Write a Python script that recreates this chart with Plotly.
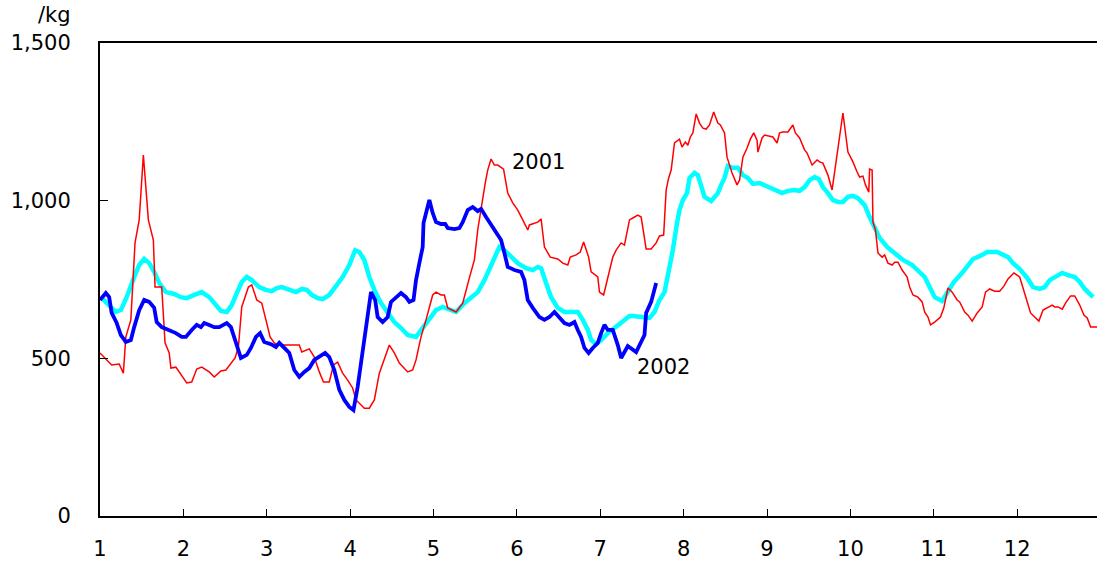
import plotly.graph_objects as go

# x positions are in month units (1 = start of January)
red_x = [1.00,1.05,1.14,1.23,1.28,1.31,1.37,1.42,1.47,1.52,1.58,1.64,1.66,1.74,1.78,1.83,1.85,1.91,2.04,2.10,
         2.16,2.22,2.31,2.37,2.45,2.51,2.57,2.62,2.66,2.70,2.78,2.82,2.88,2.94,2.99,3.04,3.09,3.15,3.39,3.42,
         3.51,3.57,3.63,3.68,3.75,3.80,3.85,3.91,3.97,4.03,4.07,4.17,4.23,4.29,4.35,4.41,4.47,4.53,4.59,4.69,
         4.75,4.79,4.85,4.91,4.99,5.03,5.09,5.13,5.17,5.27,5.35,5.43,5.49,5.53,5.57,5.62,5.65,5.69,5.73,5.77,
         5.84,5.89,5.95,6.01,6.07,6.13,6.15,6.21,6.25,6.29,6.33,6.40,6.49,6.55,6.61,6.64,6.71,6.76,6.80,6.86,
         6.89,6.97,6.99,7.04,7.09,7.15,7.19,7.25,7.29,7.35,7.39,7.45,7.49,7.53,7.55,7.61,7.67,7.71,7.76,7.79,
         7.82,7.85,7.89,7.95,7.98,8.02,8.05,8.08,8.11,8.15,8.19,8.23,8.27,8.31,8.36,8.41,8.44,8.49,8.52,8.58,
         8.64,8.67,8.71,8.76,8.80,8.84,8.88,8.89,8.94,8.97,9.07,9.12,9.15,9.19,9.25,9.31,9.34,9.39,9.45,9.48,
         9.54,9.60,9.63,9.67,9.73,9.78,9.81,9.85,9.91,9.97,10.03,10.08,10.11,10.15,10.18,10.22,10.23,10.26,10.27,10.30,
         10.33,10.38,10.41,10.45,10.50,10.53,10.57,10.62,10.68,10.71,10.75,10.81,10.86,10.89,10.93,10.96,11.01,11.08,11.12,11.17,
         11.22,11.28,11.31,11.37,11.41,11.46,11.52,11.58,11.62,11.67,11.73,11.79,11.84,11.89,11.96,12.03,12.09,12.13,12.16,12.21,
         12.26,12.31,12.37,12.42,12.45,12.49,12.54,12.58,12.64,12.69,12.75,12.80,12.84,12.88,12.96]
red_y = [517,504,479,482,453,568,622,866,939,1145,939,875,726,726,549,517,469,472,422,425,
         466,472,457,441,460,463,482,501,536,663,726,733,685,675,622,568,549,542,542,520,
         530,504,457,425,425,479,488,453,431,406,368,342,342,368,453,495,542,517,485,457,
         463,495,568,622,701,710,701,701,660,647,675,755,812,907,980,1056,1097,1132,1113,1113,
         1100,1024,993,970,939,907,923,929,932,942,853,821,815,802,796,821,828,837,869,821,
         774,758,710,701,758,821,843,866,859,939,945,954,948,882,847,847,866,888,891,1034,
         1072,1097,1183,1195,1170,1186,1176,1202,1215,1275,1246,1230,1227,1240,1281,1246,1240,1215,1138,1088,
         1050,1065,1138,1167,1195,1215,1192,1154,1199,1208,1202,1183,1215,1218,1218,1240,1215,1199,1161,1151,
         1113,1129,1123,1119,1081,1034,1091,1151,1278,1154,1123,1091,1075,1078,1050,1027,1100,1097,932,907,
         834,821,828,802,796,805,805,780,758,726,701,694,679,647,631,606,615,631,660,723,
         710,685,679,647,637,618,644,663,710,720,713,713,729,752,771,758,707,675,644,631,
         618,653,663,669,663,663,656,675,698,698,669,637,628,599,599]

cyan_x = [1.01,1.08,1.19,1.25,1.32,1.41,1.47,1.53,1.59,1.65,1.71,1.79,1.89,1.97,2.04,2.13,2.22,2.31,2.39,2.45,
          2.52,2.58,2.64,2.70,2.76,2.82,2.91,2.99,3.06,3.12,3.18,3.27,3.35,3.42,3.48,3.54,3.61,3.67,3.75,3.83,
          3.91,3.99,4.06,4.11,4.17,4.23,4.29,4.37,4.45,4.53,4.61,4.69,4.79,4.87,4.95,5.03,5.11,5.21,5.27,5.37,
          5.45,5.53,5.61,5.67,5.73,5.79,5.85,5.93,6.01,6.11,6.19,6.25,6.29,6.35,6.41,6.49,6.57,6.67,6.73,6.79,
          6.85,6.89,6.95,7.01,7.09,7.17,7.25,7.35,7.39,7.51,7.59,7.65,7.71,7.77,7.83,7.87,7.92,7.95,7.99,8.04,
          8.07,8.13,8.17,8.21,8.25,8.33,8.41,8.45,8.49,8.53,8.59,8.65,8.71,8.77,8.83,8.91,9.01,9.09,9.18,9.25,
          9.33,9.39,9.45,9.51,9.57,9.62,9.67,9.73,9.79,9.85,9.91,9.97,10.03,10.09,10.17,10.23,10.29,10.35,10.44,10.53,
          10.63,10.74,10.81,10.89,10.95,11.01,11.10,11.17,11.24,11.34,11.41,11.47,11.55,11.64,11.76,11.83,11.89,11.95,12.03,12.12,
          12.19,12.27,12.33,12.39,12.48,12.54,12.61,12.69,12.75,12.81,12.91]
cyan_y = [694,675,647,653,694,758,796,815,802,774,739,710,704,694,691,701,710,694,669,650,
          647,669,707,742,758,748,726,717,713,723,726,717,710,720,717,701,691,688,701,729,
          758,796,843,837,812,758,717,675,644,615,596,574,568,596,628,653,663,653,647,675,
          694,710,748,786,821,853,843,821,802,786,780,790,786,739,694,660,647,647,647,622,
          590,558,545,558,580,596,615,634,634,631,628,647,685,710,790,843,929,970,1002,1024,
          1072,1088,1081,1050,1012,999,1024,1050,1072,1110,1104,1104,1081,1072,1053,1056,1043,1034,1024,1031,
          1034,1031,1043,1065,1075,1069,1043,1024,1002,996,996,1012,1015,1008,986,948,913,882,853,834,
          812,796,780,758,726,694,682,710,742,771,793,815,824,837,837,828,821,802,783,755,
          726,720,726,748,764,771,764,758,742,720,694]

blue_x = [1.00,1.07,1.11,1.14,1.20,1.25,1.31,1.37,1.41,1.47,1.53,1.59,1.65,1.68,1.74,1.83,1.91,1.98,2.03,2.10,
          2.16,2.21,2.25,2.31,2.37,2.43,2.49,2.52,2.57,2.63,2.69,2.76,2.81,2.87,2.92,2.97,3.05,3.11,3.15,3.21,
          3.27,3.33,3.39,3.45,3.51,3.57,3.63,3.70,3.75,3.81,3.87,3.93,3.99,4.04,4.09,4.15,4.21,4.25,4.30,4.33,
          4.39,4.45,4.49,4.55,4.61,4.67,4.71,4.76,4.79,4.83,4.87,4.88,4.91,4.95,4.99,5.03,5.09,5.14,5.17,5.25,
          5.31,5.35,5.41,5.47,5.53,5.57,5.63,5.69,5.75,5.81,5.85,5.89,5.97,6.05,6.09,6.13,6.19,6.27,6.33,6.39,
          6.45,6.51,6.57,6.63,6.69,6.73,6.77,6.81,6.86,6.91,6.97,7.01,7.05,7.09,7.15,7.21,7.25,7.33,7.43,7.53,
          7.55,7.61,7.67]
blue_y = [685,707,694,644,612,574,552,558,599,653,685,679,660,615,599,590,580,568,568,590,
          606,599,612,606,599,599,609,612,599,549,501,511,533,568,580,552,545,536,549,533,
          517,463,441,457,469,495,504,517,504,463,400,368,346,336,409,526,622,710,685,631,
          615,631,679,694,707,694,679,685,748,802,853,929,961,1002,961,932,926,926,913,910,
          913,932,970,980,967,974,948,923,901,875,834,790,780,774,748,685,660,631,622,631,
          647,631,612,606,615,590,568,533,517,533,549,580,606,590,590,542,501,539,520,574,
          644,679,739]

y_ticks = [0, 500, 1000, 1500]
y_tick_text = ["0", "500", "1,000", "1,500"]
x_ticks = list(range(1, 13))
x_tick_text = [str(m) for m in x_ticks]

fig = go.Figure()
fig.add_trace(go.Scatter(x=cyan_x, y=cyan_y, mode="lines",
                         line=dict(color="#00FFFF", width=4.5), showlegend=False))
fig.add_trace(go.Scatter(x=red_x, y=red_y, mode="lines",
                         line=dict(color="#FF0000", width=1.5), showlegend=False))
fig.add_trace(go.Scatter(x=blue_x, y=blue_y, mode="lines",
                         line=dict(color="#0000FF", width=3.8), showlegend=False))

font = dict(family="DejaVu Sans, Liberation Sans, Arial, sans-serif", size=21, color="black")

fig.add_annotation(x=6.26, y=1123, text="2001", showarrow=False, font=font,
                   xanchor="center", yanchor="middle")
fig.add_annotation(x=7.76, y=472, text="2002", showarrow=False, font=font,
                   xanchor="center", yanchor="middle")
fig.add_annotation(x=-0.046, y=1.06, xref="paper", yref="paper", text="/kg",
                   showarrow=False, font=font, xanchor="center", yanchor="middle")

fig.update_layout(
    width=1097, height=564,
    margin=dict(l=100, r=0, t=43, b=48),
    paper_bgcolor="white", plot_bgcolor="white",
    font=font,
    xaxis=dict(range=[1, 12.957], tickmode="array", tickvals=x_ticks, ticktext=x_tick_text,
               showgrid=False, zeroline=False, showline=True, linecolor="black", linewidth=2,
               mirror=True, ticks="inside", ticklen=7, tickwidth=1, tickcolor="black",
               ticklabelstandoff=13, tickfont=font, automargin=False),
    yaxis=dict(range=[0, 1500], tickmode="array", tickvals=y_ticks, ticktext=y_tick_text,
               showgrid=False, zeroline=False, showline=True, linecolor="black", linewidth=2,
               ticks="inside", ticklen=8, tickwidth=1, tickcolor="black",
               ticklabelstandoff=23, tickfont=font, automargin=False),
)

fig.write_html("out.html", config={"displayModeBar": False},
               post_script="document.body.style.margin='0';document.body.style.overflow='hidden';")
